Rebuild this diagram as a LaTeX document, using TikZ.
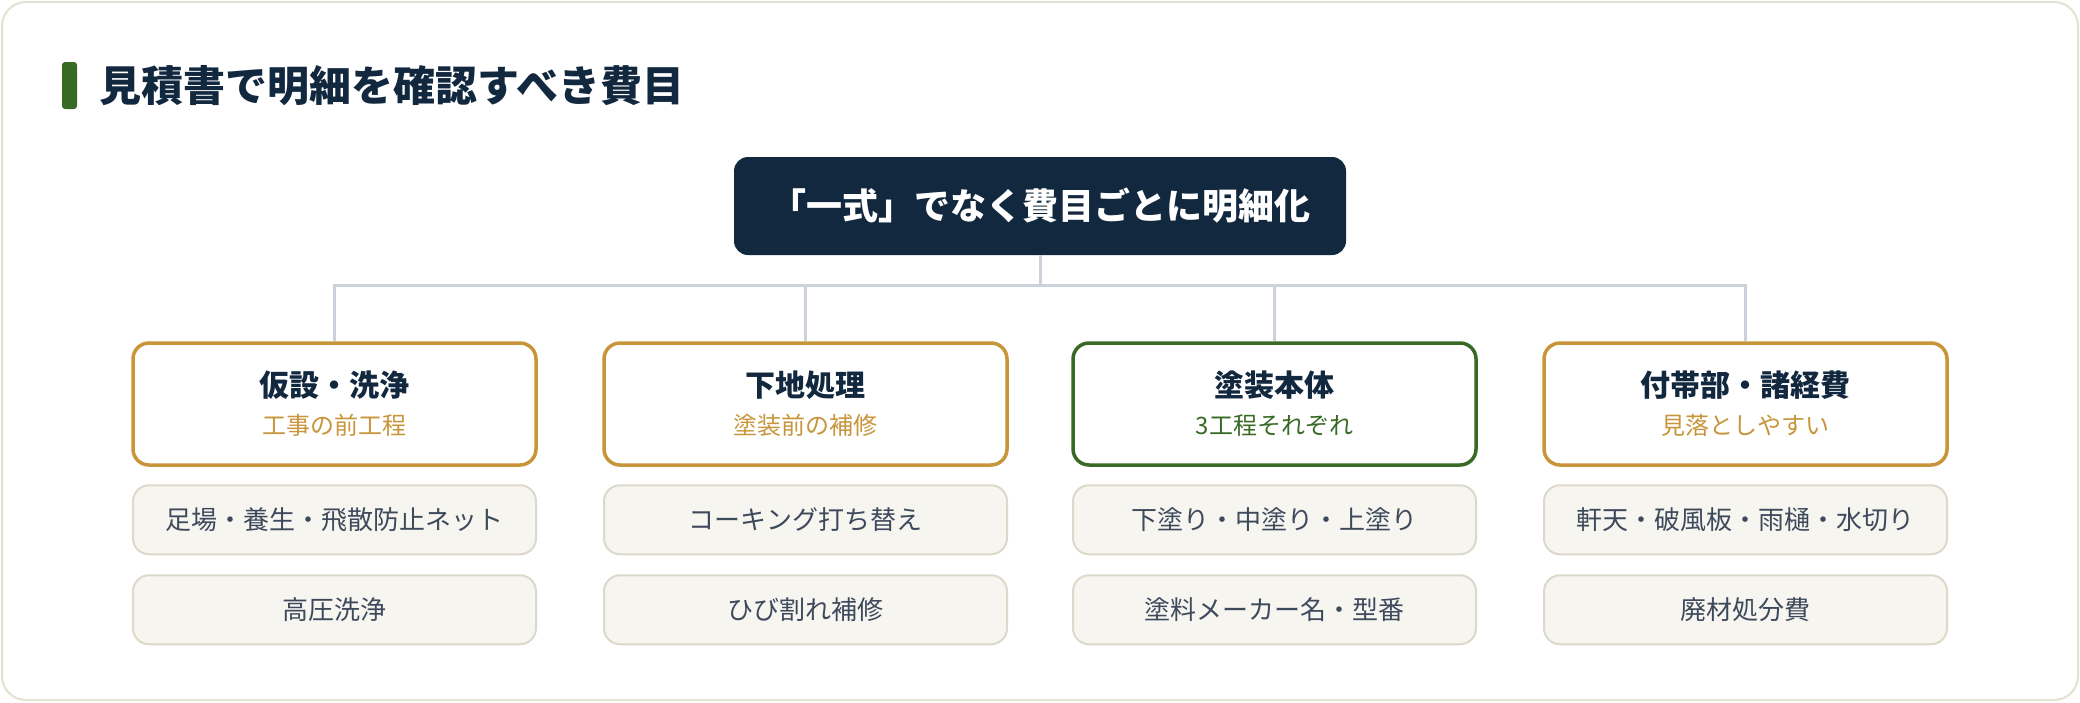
\documentclass[tikz,border=0pt]{standalone}
\usepackage{fontspec}
\setmainfont{Noto Sans CJK JP}
\usetikzlibrary{positioning}

\definecolor{navy}{HTML}{12283F}
\definecolor{gold}{HTML}{C8953A}
\definecolor{leaf}{HTML}{386A26}
\definecolor{wire}{HTML}{CBD2DB}
\definecolor{itemfill}{HTML}{F6F5F0}
\definecolor{itemline}{HTML}{DDD9CA}
\definecolor{itemtext}{HTML}{3E4A5C}
\definecolor{frameline}{HTML}{E4E1D3}

\tikzset{
  cat/.style={draw=#1, line width=1.75pt, fill=white, rounded corners=8pt,
    minimum width=201.5pt, minimum height=61pt, align=center, inner sep=0pt,
    font=\fontsize{15pt}{19pt}\selectfont},
  item/.style={draw=itemline, line width=1pt, fill=itemfill, rounded corners=8pt,
    minimum width=201.5pt, minimum height=34.5pt, inner sep=0pt,
    text=itemtext, font=\fontsize{13pt}{16pt}\selectfont},
}
\newcommand{\cattext}[3]{{\bfseries\color{navy}#1}\\{\fontsize{12pt}{19pt}\selectfont\color{#3}#2}}

\begin{document}
\begin{tikzpicture}[x=0.5pt, y=-0.5pt]
  \useasboundingbox (0,0) rectangle (2080,702);
  \draw[frameline, line width=1pt, fill=white, rounded corners=12pt] (2,2) rectangle (2078,700);

  % heading
  \node[fill=leaf, rounded corners=1.5pt, minimum width=7.5pt, minimum height=23.5pt, inner sep=0pt] (bar) at (69.5,85.5) {};
  \node[right=11pt of bar, inner sep=0pt, text=navy, font=\fontsize{21pt}{25pt}\selectfont\bfseries] (title) {見積書で明細を確認すべき費目};

  % root
  \node[fill=navy, rounded corners=7pt, minimum width=306pt, minimum height=49pt, text=white,
    font=\fontsize{18pt}{22pt}\selectfont\bfseries] (main) at (1040,206) {「一式」でなく費目ごとに明細化};

  % categories
  \node[cat=gold] (c1) at (334.5,404) {\cattext{仮設・洗浄}{工事の前工程}{gold}};
  \node[cat=gold] (c2) at (805.5,404) {\cattext{下地処理}{塗装前の補修}{gold}};
  \node[cat=leaf] (c3) at (1274.5,404) {\cattext{塗装本体}{3工程それぞれ}{leaf}};
  \node[cat=gold] (c4) at (1745.5,404) {\cattext{付帯部・諸経費}{見落としやすい}{gold}};

  % items
  \node[item, below=8.75pt of c1] (c1a) {足場・養生・飛散防止ネット};
  \node[item, below=9.5pt of c1a] (c1b) {高圧洗浄};
  \node[item, below=8.75pt of c2] (c2a) {コーキング打ち替え};
  \node[item, below=9.5pt of c2a] (c2b) {ひび割れ補修};
  \node[item, below=8.75pt of c3] (c3a) {下塗り・中塗り・上塗り};
  \node[item, below=9.5pt of c3a] (c3b) {塗料メーカー名・型番};
  \node[item, below=8.75pt of c4] (c4a) {軒天・破風板・雨樋・水切り};
  \node[item, below=9.5pt of c4a] (c4b) {廃材処分費};

  % connectors
  \coordinate (hub) at (1040,285);
  \draw[wire, line width=1.5pt] (main.south) -- (hub);
  \foreach \c in {c1,c2,c3,c4}
    \draw[wire, line width=1.5pt] (\c.north) |- (hub);
\end{tikzpicture}
\end{document}
